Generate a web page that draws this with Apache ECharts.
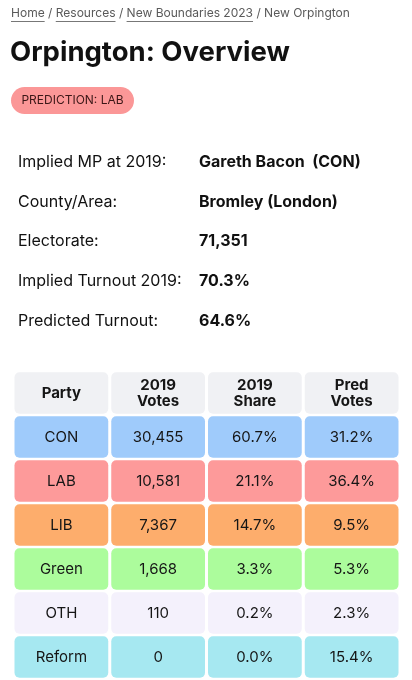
<!DOCTYPE html>
<html><head><meta charset="utf-8">
<script src="https://cdn.jsdelivr.net/npm/echarts@6/dist/echarts.min.js"></script>
<style>html,body{margin:0;padding:0;background:#fff}#c{width:412px;height:680px}</style>
</head><body><div id="c"></div>
<script>
var breadcrumbs = ['Home', 'Resources', 'New Boundaries 2023', 'New Orpington'];
var pageTitle = 'Orpington: Overview';
var prediction = 'PREDICTION: LAB';
var infoLabels = ['Implied MP at 2019:', 'County/Area:', 'Electorate:', 'Implied Turnout 2019:', 'Predicted Turnout:'];
var infoValues = ['Gareth Bacon  (CON)', 'Bromley (London)', '71,351', '70.3%', '64.6%'];
var columns = ['Party', '2019\nVotes', '2019\nShare', 'Pred\nVotes'];
var parties = ['CON', 'LAB', 'LIB', 'Green', 'OTH', 'Reform'];
var votes2019 = [30455, 10581, 7367, 1668, 110, 0];
var share2019 = [60.7, 21.1, 14.7, 3.3, 0.2, 0.0];
var predShare = [31.2, 36.4, 9.5, 5.3, 2.3, 15.4];

var partyColors = {CON:'#9fcbfb', LAB:'#fd9a9a', LIB:'#fdad6c', Green:'#acfc9c', OTH:'#f4f1fc', Reform:'#a6e8f1'};
var headerColor = '#f0f1f4';
var FONT = 'Inter';

var rows = ['header'].concat(parties);
var cells = [];
columns.forEach(function (c, i) { cells.push([i, 0, c, headerColor, 1]); });
parties.forEach(function (p, r) {
  var col = partyColors[p];
  cells.push([0, r + 1, p, col, 0]);
  cells.push([1, r + 1, votes2019[r].toLocaleString('en-GB'), col, 0]);
  cells.push([2, r + 1, share2019[r].toFixed(1) + '%', col, 0]);
  cells.push([3, r + 1, predShare[r].toFixed(1) + '%', col, 0]);
});

var cv = document.createElement('canvas').getContext('2d');
function tw(t, f) { cv.font = f; return cv.measureText(t).width; }

var graphics = [];
// breadcrumbs: scale to the reference width
var bfont = '13px ' + FONT;
var full = breadcrumbs.join(' / ');
var bsize = 13 * 339 / tw(full, bfont);
bfont = bsize.toFixed(2) + 'px ' + FONT;
var x = 11;
breadcrumbs.forEach(function (b, i) {
  var w = tw(b, bfont);
  graphics.push({type:'text', x: x, y: 13, style:{text: b, font: bfont, fill:'#5a5a5a', textVerticalAlign:'middle'}});
  if (i < breadcrumbs.length - 1) {
    graphics.push({type:'line', shape:{x1:x, y1:21.5, x2:x + w, y2:21.5}, style:{stroke:'#777', lineWidth:1}});
    x += w;
    graphics.push({type:'text', x: x, y: 13, style:{text:' / ', font:bfont, fill:'#5a5a5a', textVerticalAlign:'middle'}});
    x += tw(' / ', bfont);
  }
});
graphics.push({type:'text', x: 10, y: 53, style:{text: pageTitle, font:'bold 27.5px ' + FONT, fill:'#111', textVerticalAlign:'middle'}});
graphics.push({type:'rect', shape:{x:11, y:87, width:123, height:27, r:13.5}, style:{fill:'#fb9797'}});
graphics.push({type:'text', x: 72.5, y: 100.5, style:{text: prediction, font:'12px ' + FONT, fill:'#3b1717', textAlign:'center', textVerticalAlign:'middle'}});
infoLabels.forEach(function (l, i) {
  var y = 162 + i * 39.8;
  graphics.push({type:'text', x:18, y:y, style:{text:l, font:'16px ' + FONT, fill:'#111', textVerticalAlign:'middle'}});
  graphics.push({type:'text', x:199, y:y, style:{text:infoValues[i], font:'bold 16px ' + FONT, fill:'#111', textVerticalAlign:'middle'}});
});

var chart = echarts.init(document.getElementById('c'));
chart.setOption({
  animation: false,
  graphic: graphics,
  grid: {left: 13, right: 12, top: 371, bottom: 1},
  xAxis: {type:'category', data: columns, show:false},
  yAxis: {type:'category', data: rows, inverse:true, show:false},
  series: [{
    type:'custom',
    data: cells,
    encode: {x: 0, y: 1},
    renderItem: function (params, api) {
      var c = api.coord([api.value(0), api.value(1)]);
      var s = api.size([1, 1]);
      var item = cells[params.dataIndex];
      var w = s[0] - 3, h = s[1] - 2.5;
      var x0 = c[0] - w / 2, y0 = c[1] - h / 2;
      return {
        type:'group',
        children: [
          {type:'rect', shape:{x:x0, y:y0, width:w, height:h, r:5}, style:{fill:item[3]}},
          {type:'text', x:c[0], y:c[1] + 0.5, style:{text:item[2], font:(item[4] ? 'bold ' : '') + '15px ' + FONT, lineHeight:16, fill:'#161616', align:'center', verticalAlign:'middle'}}
        ]
      };
    }
  }]
});
</script></body></html>
